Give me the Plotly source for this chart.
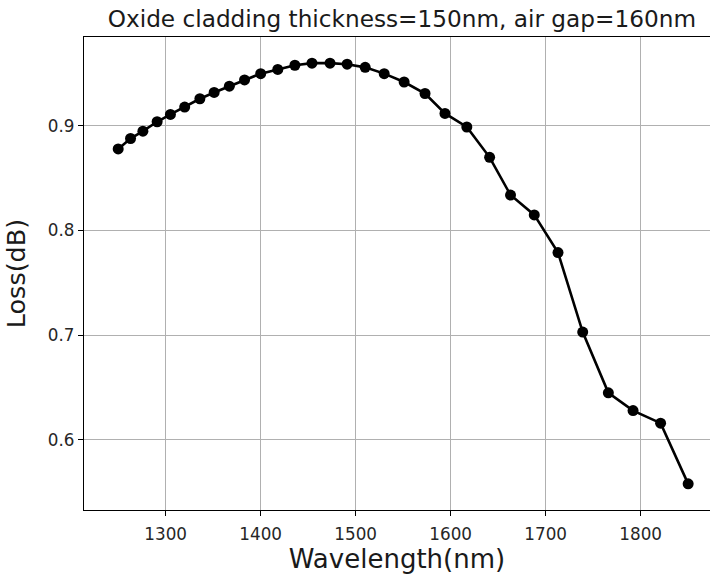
import plotly.graph_objects as go

wavelength_nm = [1250, 1263, 1276, 1291, 1305, 1320, 1336, 1351, 1367, 1383,
                 1400, 1418, 1436, 1454, 1473, 1491, 1510, 1530, 1551, 1573,
                 1594, 1617, 1641, 1663, 1688, 1713, 1739, 1766, 1792, 1821, 1850]
loss_db = [0.878, 0.888, 0.895, 0.904, 0.911, 0.918, 0.926, 0.932, 0.938, 0.944,
           0.950, 0.954, 0.958, 0.960, 0.960, 0.959, 0.956, 0.950, 0.942, 0.931,
           0.912, 0.899, 0.870, 0.834, 0.815, 0.779, 0.703, 0.645, 0.628, 0.616, 0.558]

x_ticks = [1300, 1400, 1500, 1600, 1700, 1800]
y_ticks = [0.6, 0.7, 0.8, 0.9]

font = "DejaVu Sans"

fig = go.Figure(go.Scatter(
    x=wavelength_nm, y=loss_db, mode="lines+markers",
    line=dict(color="black", width=2.6),
    marker=dict(color="black", size=11),
    showlegend=False,
))

axis_common = dict(
    showgrid=True, gridcolor="#b0b0b0", gridwidth=1,
    showline=True, linecolor="black", linewidth=1.2, mirror=True,
    ticks="outside", ticklen=5, tickcolor="black", tickwidth=1,
    tickfont=dict(family=font, size=16.8, color="#262626"),
    zeroline=False,
)

fig.update_layout(
    width=710, height=575,
    margin=dict(l=84, r=0, t=37, b=65),
    plot_bgcolor="white", paper_bgcolor="white",
    title=dict(text="Oxide cladding thickness=150nm, air gap=160nm",
               font=dict(family=font, size=23.2, color="#1a1a1a"),
               x=0.566, xanchor="center", y=0.968, yanchor="middle"),
    xaxis=dict(range=[1214, 1873], tickvals=x_ticks, ticklabelstandoff=4,
               title=dict(text="Wavelength(nm)", font=dict(family=font, size=26, color="#1a1a1a"),
                          standoff=3),
               **axis_common),
    yaxis=dict(range=[0.533, 0.985], tickvals=y_ticks, tickformat=".1f",
               title=dict(text="Loss(dB)", font=dict(family=font, size=25.5, color="#1a1a1a"),
                          standoff=14),
               **axis_common),
)

fig.write_html("out.html")
